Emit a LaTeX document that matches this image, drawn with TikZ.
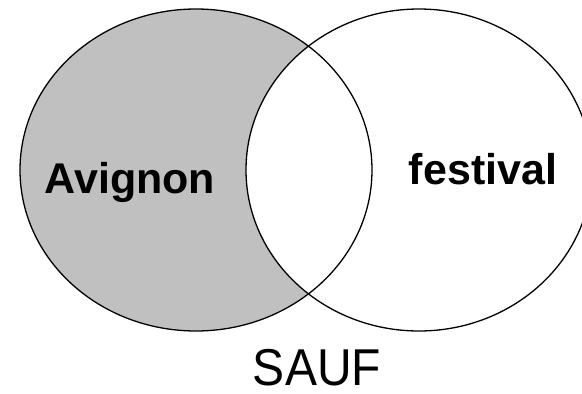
\documentclass[tikz,border=0pt]{standalone}
\definecolor{setgray}{RGB}{192,192,192}
\usepackage{fontspec}
\setmainfont{Liberation Sans}
\usepackage{tikz}
\usetikzlibrary{positioning}

\begin{document}
\begin{tikzpicture}[x=1pt,y=-1pt,
    setline/.style={draw=black,line width=1.3pt},
    setlabel/.style={anchor=base,inner sep=0pt,font=\fontsize{43}{43}\selectfont\bfseries}]
      \useasboundingbox (0,0) rectangle (582,394);
      \begin{scope}
      \clip (0,0) rectangle (582,394);
      % Avignon sauf festival
      \fill[setgray] (196,170) ellipse [x radius=176,y radius=161];
      \fill[white] (419,170) ellipse [x radius=173,y radius=161];
      \draw[setline] (196,170) ellipse [x radius=176,y radius=161];
      \draw[setline] (419,170) ellipse [x radius=173,y radius=161];
      \end{scope}
      \node[setlabel] (avignon) at (130,193) {Avignon};
      \node[setlabel] (festival) at (483,184) {festival};
      \node[anchor=base,inner sep=0pt,font=\fontsize{48}{48}\selectfont,yscale=1.08] (sauf) at (317,385) {SAUF};
    \end{tikzpicture}
\end{document}
